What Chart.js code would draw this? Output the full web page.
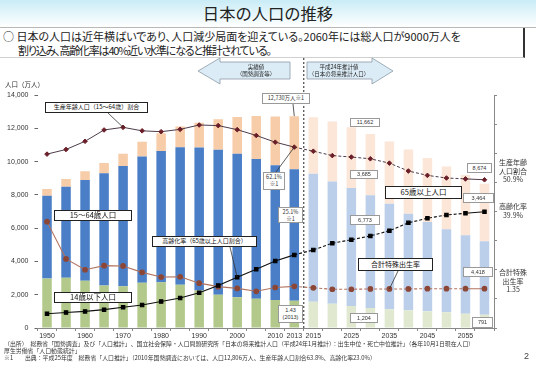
<!DOCTYPE html>
<html lang="ja">
<head>
<meta charset="utf-8">
<title>日本の人口の推移</title>
<script src="https://cdn.jsdelivr.net/npm/chart.js@4/dist/chart.umd.min.js"></script>
<style>
    body { margin: 0; width: 536px; height: 370px; position: relative; overflow: hidden; background: #fff;
           font-family: "Noto Sans CJK JP", "Liberation Sans", sans-serif; color: #222; }
    #head { position: absolute; left: 0; top: 0; width: 536px; height: 27px;
            background: linear-gradient(#c9ecf6, #ffffff); border-bottom: 1px solid #b8b8b8; }
    #title { position: absolute; left: 0; top: 2px; width: 536px; text-align: center; font-size: 16.3px; line-height: 22px; }
    #lead { position: absolute; left: 0; top: 28px; width: 525px; border-right: 2px solid #333;
            border-bottom: 1px solid #d0d0d0; font-size: 11px; line-height: 14px; padding-top: 1px; box-sizing: border-box;
            height: 30px; font-feature-settings: "palt"; }
    #lead div { white-space: nowrap; }
    #wrap { position: absolute; left: 0; top: 55px; width: 536px; height: 290px; }
    .unit { position: absolute; left: 5px; top: 79px; font-size: 6.5px; color: #333; }
    .lbl { position: absolute; box-sizing: border-box; background: #fff; border: 1.5px solid #222; text-align: center;
           white-space: nowrap; color: #111; }
    .val { position: absolute; box-sizing: border-box; background: #fff; border: 1px solid #999; text-align: center;
           font-family: "Liberation Sans", sans-serif; font-size: 5.5px; line-height: 7px; color: #333; white-space: nowrap; }
    .side { position: absolute; left: 492px; width: 42px; text-align: center; font-size: 7px; line-height: 8.7px; color: #333; }
    #foot { position: absolute; left: 4px; top: 340px; font-size: 5.9px; line-height: 7px; color: #333; white-space: nowrap; }
    #page { position: absolute; left: 524px; top: 351px; font-size: 9px; color: #444; font-family: "Liberation Sans", sans-serif; }
</style>
</head>
<body>
<div id="head"><div id="title">日本の人口の推移</div></div>
<div id="lead">
    <div style="padding-left:3px">○&nbsp;日本の人口は近年横ばいであり、人口減少局面を迎えている。2060年には総人口が9000万人を</div>
    <div style="padding-left:18px;letter-spacing:-1.2px">割り込み、高齢化率は40%近い水準になると推計されている。</div>
</div>

<div id="wrap"><canvas id="chart" width="536" height="290"></canvas></div>

<svg style="position:absolute;left:0;top:0" width="536" height="90">
    <polygon points="198,71 220,58 220,62 290,62 290,79 220,79 220,84" fill="#dcecf6" stroke="#8a9aa6" stroke-width="0.8"/>
    <polygon points="307,62 372,62 372,58 393,71 372,84 372,79 307,79" fill="#dcecf6" stroke="#8a9aa6" stroke-width="0.8"/>
    <text x="256" y="69" font-size="5.5" text-anchor="middle" fill="#222">実績値</text>
    <text x="256" y="76" font-size="5.5" text-anchor="middle" fill="#222">（国勢調査等）</text>
    <text x="339" y="69" font-size="5.5" text-anchor="middle" fill="#222">平成24年推計値</text>
    <text x="339" y="76" font-size="5.5" text-anchor="middle" fill="#222">（日本の将来推計人口）</text>
</svg>
<div class="unit">人口（万人）</div>

<div class="lbl" style="left:45px;top:102px;width:103px;height:11px;font-size:6px;line-height:8px">生産年齢人口（15～64歳）割合</div>
<div class="lbl" style="left:54px;top:210px;width:78px;height:11px;font-size:7.5px;line-height:8px">15～64歳人口</div>
<div class="lbl" style="left:152px;top:236px;width:105px;height:11px;font-size:6px;line-height:8px">高齢化率（65歳以上人口割合）</div>
<div class="lbl" style="left:54px;top:292px;width:78px;height:11px;font-size:7.5px;line-height:8px">14歳以下人口</div>
<div class="lbl" style="left:385px;top:186px;width:77px;height:13px;font-size:7.5px;line-height:10px">65歳以上人口</div>
<div class="lbl" style="left:358px;top:258px;width:75px;height:13px;font-size:7px;line-height:10px">合計特殊出生率</div>

<div class="val" style="left:262px;top:93px;width:48px;height:11px;line-height:9px;font-family:'Noto Sans CJK JP'">12,730万人※1</div>
<div class="val" style="left:263px;top:172px;width:22px;height:18px;padding-top:1px;font-family:'Noto Sans CJK JP'">62.1%<br>※1</div>
<div class="val" style="left:278px;top:207px;width:25px;height:16px;padding-top:1px;font-family:'Noto Sans CJK JP'">25.1%<br>※1</div>
<div class="val" style="left:278px;top:305px;width:25px;height:18px;padding-top:1px">1.43<br>(2013)</div>
<div class="val" style="left:350px;top:118px;width:30px;height:9px">11,662</div>
<div class="val" style="left:350px;top:170px;width:28px;height:9px">3,685</div>
<div class="val" style="left:350px;top:215px;width:30px;height:10px;line-height:8px">6,773</div>
<div class="val" style="left:350px;top:313px;width:28px;height:10px;line-height:8px">1,204</div>
<div class="val" style="left:467px;top:163px;width:25px;height:10px;line-height:8px">8,674</div>
<div class="val" style="left:463px;top:193px;width:31px;height:10px;line-height:8px">3,464</div>
<div class="val" style="left:463px;top:267px;width:30px;height:10px;line-height:8px">4,418</div>
<div class="val" style="left:472px;top:317px;width:21px;height:11px;line-height:9px">791</div>

<div class="side" style="top:158px">生産年齢<br>人口割合<br>50.9%</div>
<div class="side" style="top:202px">高齢化率<br>39.9%</div>
<div class="side" style="top:268px">合計特殊<br>出生率<br>1.35</div>

<div id="foot">
    <div>（出所）　総務省「国勢調査」及び「人口推計」、国立社会保障・人口問題研究所「日本の将来推計人口（平成24年1月推計）：出生中位・死亡中位推計」（各年10月1日現在人口）</div>
    <div>厚生労働省「人口動態統計」</div>
    <div>※1　　出典：平成25年度　総務省「人口推計」（2010年国勢調査においては、人口12,806万人、生産年齢人口割合63.8%、高齢化率23.0%）</div>
</div>
<div id="page">2</div>

<script>
// years (index 14 onward = projection)
const years = ['1950', '1955', '1960', '1965', '1970', '1975', '1980', '1985', '1990', '1995', '2000', '2005',
    '2010', '2013', '2015', '2020', '2025', '2030', '2035', '2040', '2045', '2050', '2055', '2060'];
const shownYears = ['1950', '1960', '1970', '1980', '1990', '2000', '2010', '2013', '2015', '2025', '2035', '2045', '2055'];

// population, 万人
const age0to14 = [2979, 3012, 2843, 2553, 2515, 2722, 2751, 2603, 2249, 2001, 1847, 1752,
    1680, 1639, 1583, 1457, 1324, 1204, 1129, 1073, 1012, 939, 861, 791];
const age15to64 = [4966, 5473, 6047, 6744, 7212, 7581, 7883, 8251, 8590, 8716, 8622, 8409,
    8103, 7901, 7682, 7341, 7085, 6773, 6343, 5787, 5353, 5001, 4706, 4418];
const age65plus = [411, 475, 535, 624, 739, 887, 1065, 1247, 1489, 1826, 2204, 2576,
    2925, 3190, 3395, 3612, 3657, 3685, 3741, 3868, 3856, 3768, 3626, 3464];

// ratios, %
const workingRatio = [59.7, 61.3, 64.1, 68.0, 68.9, 67.7, 67.4, 68.2, 69.7, 69.5, 68.1, 66.1,
    63.8, 62.1, 60.7, 59.2, 58.7, 58.1, 56.6, 53.9, 52.4, 51.5, 51.2, 50.9];
const agingRate = [4.9, 5.3, 5.7, 6.3, 7.1, 7.9, 9.1, 10.3, 12.1, 14.6, 17.4, 20.2,
    23.0, 25.1, 26.8, 29.1, 30.3, 31.6, 33.4, 36.1, 37.7, 38.8, 39.4, 39.9];
// total fertility rate
const fertility = [3.65, 2.37, 2.00, 2.14, 2.13, 1.91, 1.75, 1.76, 1.54, 1.42, 1.36, 1.26,
    1.39, 1.43, 1.38, 1.33, 1.33, 1.34, 1.34, 1.34, 1.35, 1.35, 1.35, 1.35];

const FIRST_PROJ = 14;
const barColor = (actual, proj) => ctx => ctx.dataIndex >= FIRST_PROJ ? proj : actual;
const dashed = ctx => (ctx.p0DataIndex >= 13 && ctx.p0DataIndex < 22) ? [3, 2] : undefined;

const guides = {
    id: 'guides',
    afterDatasetsDraw(chart) {
        const {ctx, chartArea, scales} = chart;
        const x = scales.x, y = scales.y, y1 = scales.y1, y2 = scales.y2;
        const top = 55; // canvas offset on page
        ctx.save();
        // border between actual and projection
        const xd = (x.getPixelForValue(13) + x.getPixelForValue(14)) / 2;
        ctx.strokeStyle = '#222';
        ctx.lineWidth = 1;
        ctx.setLineDash([2, 2]);
        ctx.beginPath();
        ctx.moveTo(xd, 3);
        ctx.lineTo(xd, chartArea.bottom);
        ctx.stroke();
        ctx.setLineDash([]);

        // leader lines: box edge on page -> data point
        const leaders = [
            [108, 113, x.getPixelForValue(4), y1.getPixelForValue(workingRatio[4])],
            [293, 104, x.getPixelForValue(13), y.getPixelForValue(age0to14[13] + age15to64[13] + age65plus[13])],
            [276, 172, x.getPixelForValue(13), y1.getPixelForValue(workingRatio[13])],
            [230, 247, x.getPixelForValue(10), y1.getPixelForValue(agingRate[10])],
            [398, 271, x.getPixelForValue(18), y2.getPixelForValue(fertility[18])]
        ];
        ctx.strokeStyle = '#333';
        ctx.lineWidth = 0.8;
        leaders.forEach(l => {
            ctx.beginPath();
            ctx.moveTo(l[0], l[1] - top);
            ctx.lineTo(l[2], l[3]);
            ctx.stroke();
        });
        ctx.restore();
    }
};

const tickFont = {family: 'Liberation Sans', size: 7};

new Chart(document.getElementById('chart'), {
    data: {
        labels: years,
        datasets: [
            {
                type: 'line', label: '生産年齢人口割合', data: workingRatio, yAxisID: 'y1', order: 0,
                borderColor: '#4d3c4a', borderWidth: 1, pointStyle: 'rectRot', pointRadius: 2.3,
                pointBackgroundColor: '#6a1e28', pointBorderColor: '#6a1e28',
                segment: {borderDash: dashed}
            },
            {
                type: 'line', label: '高齢化率', data: agingRate, yAxisID: 'y1', order: 0,
                borderColor: '#111', borderWidth: 1.1, pointStyle: 'rect', pointRadius: 2.4,
                pointBackgroundColor: '#000', pointBorderColor: '#000',
                segment: {borderDash: dashed}
            },
            {
                type: 'line', label: '合計特殊出生率', data: fertility, yAxisID: 'y2', order: 0,
                borderColor: '#b2735f', borderWidth: 1.1, pointStyle: 'circle', pointRadius: 2.3,
                pointBackgroundColor: '#8c4636', pointBorderColor: '#8c4636',
                segment: {borderDash: dashed}
            },
            {
                type: 'bar', label: '14歳以下人口', data: age0to14, order: 1,
                backgroundColor: barColor('#b2c98b', '#e0e9d0')
            },
            {
                type: 'bar', label: '15～64歳人口', data: age15to64, order: 1,
                backgroundColor: barColor('#4a7ec6', '#bccfea')
            },
            {
                type: 'bar', label: '65歳以上人口', data: age65plus, order: 1,
                backgroundColor: barColor('#f7cca8', '#fbe6d8')
            }
        ]
    },
    options: {
        responsive: false,
        animation: false,
        layout: {padding: {top: 40}},
        datasets: {bar: {barPercentage: 0.5, categoryPercentage: 1}},
        plugins: {legend: {display: false}, tooltip: {enabled: false}},
        scales: {
            x: {
                stacked: true,
                grid: {drawOnChartArea: false, tickLength: 3, color: '#888'},
                border: {color: '#888'},
                ticks: {
                    font: tickFont, color: '#333', autoSkip: false, maxRotation: 0, padding: 1,
                    callback: (v, i) => shownYears.includes(years[i]) ? years[i] : ''
                },
                afterFit: s => { s.height = 17; }
            },
            y: {
                stacked: true, min: 0, max: 14000,
                grid: {drawOnChartArea: false, tickLength: 3, color: '#666'},
                border: {display: false},
                ticks: {font: tickFont, color: '#333', stepSize: 2000, padding: 6},
                afterFit: s => { s.width = 37.5; }
            },
            y1: {
                position: 'right', min: 0, max: 80,
                grid: {drawOnChartArea: false, tickLength: 3, color: '#888'},
                border: {color: '#888'},
                ticks: {stepSize: 10, callback: () => ''},
                afterFit: s => { s.width = 42; }
            },
            y2: {display: false, min: 0, max: 8}
        }
    },
    plugins: [guides]
});
</script>
</body>
</html>
